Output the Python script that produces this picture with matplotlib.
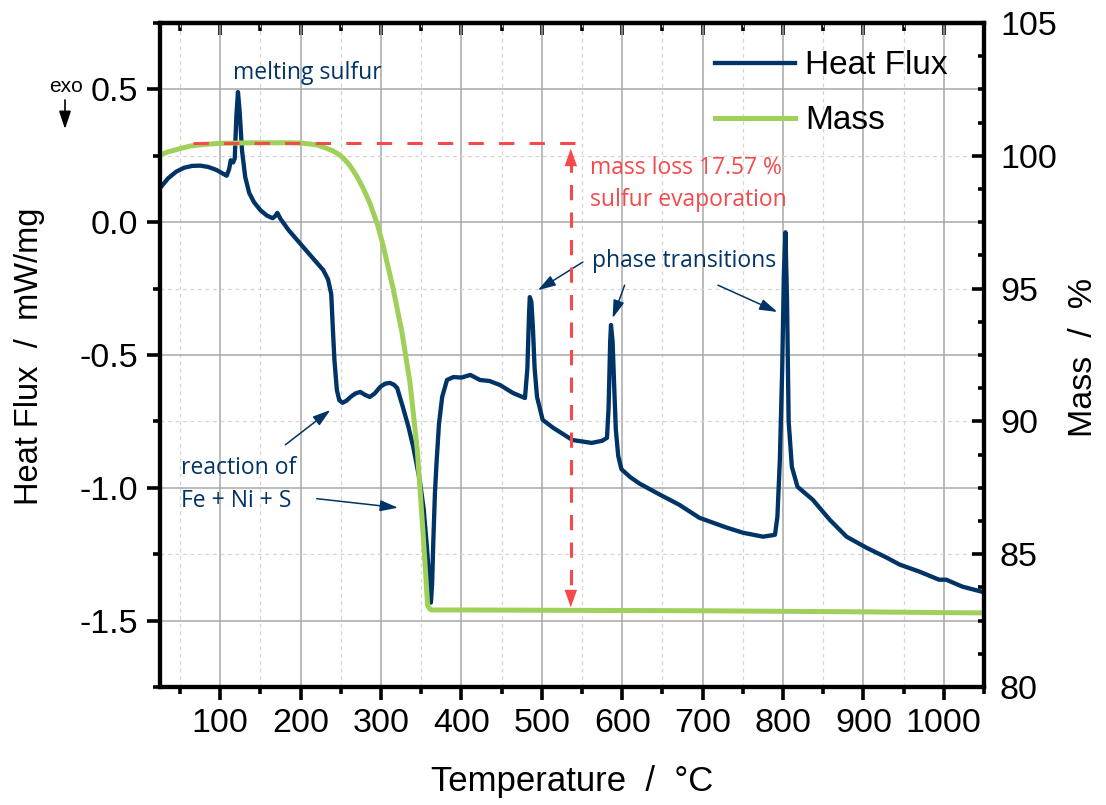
import matplotlib
matplotlib.use("Agg")
import matplotlib.pyplot as plt
from matplotlib.ticker import MultipleLocator

# ---------------- data ----------------
hf_T = [25, 35, 45, 55, 65, 75, 85, 95, 105, 108, 111, 113, 116, 118, 120, 122, 124, 127, 131, 136,
        142, 150, 158, 165, 168, 171, 175, 185, 199, 215, 228, 234, 238, 240, 242, 245, 248, 252,
        257, 262, 268, 274, 280, 286, 292, 299, 305, 311, 316, 320, 327, 334, 340, 348, 353, 357,
        360, 362, 363.5, 365, 367, 369, 372, 376, 382, 390, 400, 411, 423, 435, 448, 464, 479, 482,
        484, 485, 487, 489, 491, 494, 501, 514, 538, 562, 575, 581, 583, 585, 586, 588, 590, 592,
        595, 599, 610, 622, 647, 671, 696, 730, 750, 775, 790, 793, 796, 799, 801, 803, 805, 807,
        811, 818, 837, 858, 879, 904, 929, 945, 970, 994, 1003, 1023, 1047]
hf_val = [0.128, 0.165, 0.19, 0.205, 0.212, 0.213, 0.208, 0.197, 0.180, 0.175, 0.20, 0.233, 0.225,
          0.24, 0.40, 0.49, 0.42, 0.27, 0.17, 0.11, 0.075, 0.045, 0.025, 0.015, 0.022, 0.035, 0.012,
          -0.03, -0.079, -0.135, -0.18, -0.215, -0.27, -0.40, -0.52, -0.632, -0.67, -0.680, -0.672,
          -0.658, -0.645, -0.639, -0.65, -0.658, -0.645, -0.620, -0.608, -0.605, -0.612, -0.624,
          -0.695, -0.77, -0.846, -0.97, -1.08, -1.222, -1.35, -1.432, -1.36, -1.2, -1.02, -0.906,
          -0.76, -0.658, -0.594, -0.583, -0.585, -0.575, -0.594, -0.598, -0.613, -0.643, -0.662,
          -0.55, -0.35, -0.282, -0.30, -0.406, -0.55, -0.658, -0.744, -0.774, -0.82, -0.831, -0.823,
          -0.812, -0.70, -0.45, -0.387, -0.45, -0.62, -0.78, -0.88, -0.93, -0.96, -0.985, -1.026,
          -1.064, -1.113, -1.15, -1.169, -1.184, -1.177, -1.109, -0.90, -0.55, -0.2, -0.038, -0.3,
          -0.75, -0.921, -0.996, -1.045, -1.12, -1.184, -1.226, -1.263, -1.289, -1.316, -1.346,
          -1.346, -1.372, -1.391]

mass_T = [25, 35, 44, 55, 63, 80, 100, 140, 187, 199, 210, 220, 228, 239, 245, 253, 261, 270, 278,
          286, 295, 302, 315, 326, 336, 345, 352, 358, 361, 363, 400, 500, 600, 700, 800, 900, 1000,
          1050]
mass_val = [100.03, 100.15, 100.22, 100.31, 100.37, 100.43, 100.47, 100.49, 100.49, 100.48, 100.45,
            100.41, 100.33, 100.2, 100.1, 99.92, 99.64, 99.22, 98.76, 98.22, 97.46, 96.69, 95.0,
            93.35, 91.45, 88.93, 85.9, 83.05, 82.93, 82.9, 82.9, 82.89, 82.88, 82.87, 82.85, 82.83,
            82.8, 82.79]

mass_start = 100.47
mass_end = 82.90
loss_T = 536
ref_line_T = [66, 548]

x_ticks = [100, 200, 300, 400, 500, 600, 700, 800, 900, 1000]
hf_ticks = [0.5, 0.0, -0.5, -1.0, -1.5]
mass_ticks = [80, 85, 90, 95, 100, 105]

# ---------------- style ----------------
BLUE = "#003366"
GREEN = "#9ED05A"
RED = "#F5494C"
TICKFONT = "Liberation Sans"
ANNFONT = "Open Sans"

plt.rcParams["font.family"] = [TICKFONT, "DejaVu Sans"]

fig = plt.figure(figsize=(11.06, 8.05), dpi=100)
ax = fig.add_axes([160/1106, 1-687/805, 824/1106, 664/805])
ax.set_xlim(25, 1050)
ax.set_ylim(-1.75, 0.75)

ax.set_xticks(x_ticks)
ax.set_yticks(hf_ticks)
ax.set_yticklabels([f"{v:.1f}" for v in hf_ticks])
ax.xaxis.set_minor_locator(MultipleLocator(50))
ax.yaxis.set_minor_locator(MultipleLocator(0.25))

ax.grid(True, which="major", color="#A8A8A8", lw=1.1, zorder=0)
ax.grid(True, which="minor", color="#D4D4D4", lw=0.9, ls=(0, (3, 3)), zorder=0)
ax.set_axisbelow(True)

for s in ax.spines.values():
    s.set_linewidth(3)
ax.tick_params(axis="both", which="major", direction="out", length=9.4, width=2.6,
               labelsize=24.5, colors="black")
ax.tick_params(axis="both", which="minor", direction="out", length=5, width=2.6)
ax.tick_params(axis="x", which="major", pad=6)
ax.tick_params(axis="y", which="major", pad=6)
ax.tick_params(right=False, top=False, which="both")

# top ticks pointing inward
top = ax.secondary_xaxis("top")
top.set_xticks(x_ticks)
top.xaxis.set_minor_locator(MultipleLocator(50))
top.tick_params(which="major", direction="in", length=8.6, width=2.6, labeltop=False)
top.tick_params(which="minor", direction="in", length=5.5, width=2.6)
top.spines["top"].set_linewidth(3)

ln_hf, = ax.plot(hf_T, hf_val, color=BLUE, lw=3.1, solid_joinstyle="round", zorder=3,
                 label="Heat Flux")

ax2 = ax.twinx()
ax2.set_ylim(80, 105)
ax2.set_yticks(mass_ticks)
ax2.yaxis.set_minor_locator(MultipleLocator(1.25))
ax2.tick_params(axis="y", which="major", direction="in", length=8.6, width=2.6,
                labelsize=24.5, pad=11.5)
ax2.tick_params(axis="y", which="minor", direction="in", length=4, width=2.6)
for s in ax2.spines.values():
    s.set_linewidth(3)

ln_m, = ax2.plot(mass_T, mass_val, color=GREEN, lw=3.6, solid_joinstyle="round", zorder=2,
                 label="Mass")

# red mass-loss marker
ax2.plot(ref_line_T, [mass_start, mass_start], color=RED, lw=2.2, ls=(0, (5, 5)), zorder=4)
ax2.plot([loss_T, loss_T], [mass_start - 0.5, mass_end + 0.4], color=RED, lw=2.2,
         ls=(0, (5, 4)), zorder=4)
head = dict(arrowstyle="-|>,head_length=0.9,head_width=0.32", color=RED, lw=0.01,
            shrinkA=0, shrinkB=0, mutation_scale=14)
ax2.annotate("", xy=(loss_T, mass_start - 0.2), xytext=(loss_T, mass_start - 1.0),
             arrowprops=head, zorder=5)
ax2.annotate("", xy=(loss_T, mass_end + 0.1), xytext=(loss_T, mass_end + 0.9),
             arrowprops=head, zorder=5)

ax.text(560, 0.205, "mass loss 17.57 %", color=RED, fontsize=16.5, family=ANNFONT,
        va="center", ha="left", zorder=6)
ax.text(560, 0.083, "sulfur evaporation", color=RED, fontsize=16.5, family=ANNFONT,
        va="center", ha="left", zorder=6)

# annotations
ann = dict(arrowstyle="-|>,head_length=0.9,head_width=0.28", color=BLUE, lw=1.1,
           shrinkA=0, shrinkB=0, mutation_scale=12)
ax.text(116, 0.56, "melting sulfur", color=BLUE, fontsize=16.5, family=ANNFONT,
        va="center", ha="left")
ax.text(51, -0.925, "reaction of", color=BLUE, fontsize=16.5, family=ANNFONT,
        va="center", ha="left")
ax.text(51, -1.05, "Fe + Ni + S", color=BLUE, fontsize=16.5, family=ANNFONT,
        va="center", ha="left")
ax.annotate("", xy=(237, -0.707), xytext=(181, -0.838), arrowprops=ann)
ax.annotate("", xy=(321, -1.075), xytext=(220, -1.041), arrowprops=ann)
ax.text(562, -0.145, "phase transitions", color=BLUE, fontsize=16.5, family=ANNFONT,
        va="center", ha="left")
ax.annotate("", xy=(495, -0.256), xytext=(551, -0.150), arrowprops=ann)
ax.annotate("", xy=(588, -0.361), xytext=(603, -0.237), arrowprops=ann)
ax.annotate("", xy=(793, -0.338), xytext=(719, -0.237), arrowprops=ann)

# legend
leg = ax2.legend(handles=[ln_hf, ln_m], loc="upper left", bbox_to_anchor=(0.6735, 0.959),
                 frameon=False, fontsize=24, borderpad=0, borderaxespad=0,
                 handlelength=2.4, handletextpad=0.3, labelspacing=0.72)

# axis labels
fig.text(30/1106, 1-356/805, "Heat Flux  /  mW/mg", rotation=90, fontsize=23.5,
         ha="center", va="center")
fig.text(1084/1106, 1-357/805, "Mass  /  %", rotation=90, fontsize=24.5,
         ha="center", va="center")
fig.text(572/1106, 1-781/805, "Temperature  /  \u00b0C", fontsize=25, ha="center", va="center")

# exo marker
fig.text(66/1106, 1-86/805, "exo", fontsize=15, ha="center", va="center")
fig.add_artist(matplotlib.patches.FancyArrowPatch(
    (65/1106, 1-100/805), (65/1106, 1-129/805), transform=fig.transFigure,
    arrowstyle="-|>,head_length=0.9,head_width=0.3", mutation_scale=12, color="black",
    lw=1.2, shrinkA=0, shrinkB=0))

fig.savefig("out.png", dpi=100)
